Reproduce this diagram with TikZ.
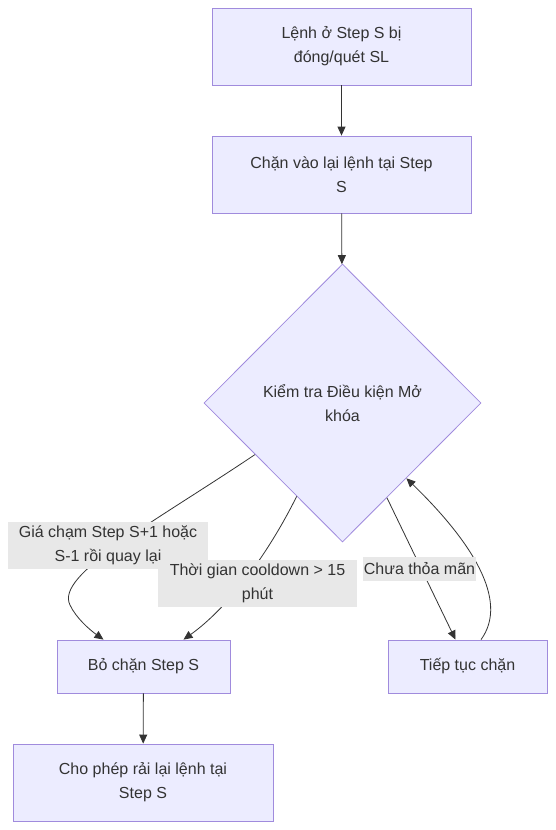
\documentclass[tikz,border=0pt]{standalone}
\usepackage{fontspec}
\setmainfont{Liberation Sans}
\usetikzlibrary{shapes.geometric,arrows.meta,calc}
\definecolor{nodefill}{HTML}{ECECFF}
\definecolor{nodeline}{HTML}{A08BDD}
\definecolor{txt}{HTML}{333333}
\definecolor{lblbg}{HTML}{E8E8E8}
\tikzset{
  box/.style={draw=nodeline, fill=nodefill, line width=0.8pt, text=txt, align=center, inner sep=0pt, font=\fontsize{16}{24}\selectfont},
  decision/.style={diamond, draw=nodeline, fill=nodefill, line width=0.8pt, text=txt, align=center, inner sep=0pt, minimum width=277pt, minimum height=278pt, font=\fontsize{16}{24}\selectfont},
  lbl/.style={fill=lblbg, text=txt, align=center, inner sep=0pt, font=\fontsize{16}{24}\selectfont},
  conn/.style={draw=txt, line width=0.8pt, -{Triangle[length=9pt,width=8pt]}},
}
\begin{document}
\begin{tikzpicture}[x=1pt,y=-1pt]
\useasboundingbox[fill=white] (0,0) rectangle (555,830);
\node[box, minimum width=259pt, minimum height=77pt] (A) at (341.5,46.5) {Lệnh ở Step S bị\\đóng/quét SL};
\node[box, minimum width=259pt, minimum height=77pt] (B) at (341.5,174.5) {Chặn vào lại lệnh tại Step\\S};
\node[decision] (C) at (342.5,403) {Kiểm tra Điều kiện Mở\\khóa};
\node[box, minimum width=173pt, minimum height=53pt] (D) at (143.5,666.5) {Bỏ chặn Step S};
\node[box, minimum width=159pt, minimum height=53pt] (E) at (467.5,666.5) {Tiếp tục chặn};
\node[box, minimum width=260pt, minimum height=77pt] (F) at (143,782.5) {Cho phép rải lại lệnh tại\\Step S};

\coordinate (c1) at ($(C.west)!0.37!(C.south)$);
\coordinate (c2) at ($(C.west)!0.67!(C.south)$);
\coordinate (c3) at ($(C.south)!0.32!(C.east)$);
\coordinate (c4) at ($(C.south)!0.46!(C.east)$);

\draw[conn] (A) -- (B);
\draw[conn] (B) -- (C);
\draw[conn] (c1) .. controls (150,525) and (55,575) .. (70,605) .. controls (76,618) and (90,630) .. ([xshift=-40pt]D.north);
\draw[conn] (c2) .. controls (265,560) and (225,610) .. ([xshift=40pt]D.north);
\draw[conn] (c3) -- ([xshift=-12pt]E.north);
\draw[conn] ([xshift=13.5pt]E.north) .. controls (510,600) and (470,540) .. (c4);
\draw[conn] (D) -- (F);

\node[lbl, minimum width=200pt, minimum height=47pt] (L1) at (108,545.5) {Giá chạm Step S+1 hoặc\\S-1 rồi quay lại};
\node[lbl, minimum width=199pt, minimum height=47pt] (L2) at (257.5,583.5) {Thời gian cooldown > 15\\phút};
\node[lbl, minimum width=113pt, minimum height=24pt] (L3) at (419.5,569) {Chưa thỏa mãn};
\end{tikzpicture}
\end{document}
